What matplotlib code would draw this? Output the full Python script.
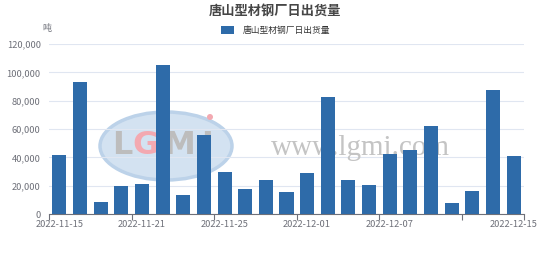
import matplotlib
matplotlib.use("Agg")
import matplotlib.pyplot as plt
from matplotlib.patches import Ellipse, Rectangle

plt.rcParams['font.family'] = ['Noto Sans CJK SC', 'DejaVu Sans']

# data (tons)
dates = ["2022-11-15", "2022-11-16", "2022-11-17", "2022-11-18", "2022-11-21",
         "2022-11-22", "2022-11-23", "2022-11-24", "2022-11-25", "2022-11-28",
         "2022-11-29", "2022-11-30", "2022-12-01", "2022-12-02", "2022-12-05",
         "2022-12-06", "2022-12-07", "2022-12-08", "2022-12-09", "2022-12-12",
         "2022-12-13", "2022-12-14", "2022-12-15"]
shipments = [41600, 92900, 8500, 19500, 20900, 104900, 13400, 55500, 29600, 17600,
             23800, 15300, 28900, 82400, 23800, 20700, 42600, 44900, 62100, 7800,
             16000, 87800, 40700]
y_ticks = [0, 20000, 40000, 60000, 80000, 100000, 120000]
label_idx = [0, 4, 8, 12, 16, 22]

title = "唐山型材钢厂日出货量"
bar_color = "#2e6ba9"
grey = "#6e7079"

W, H = 554, 269
fig = plt.figure(figsize=(W / 100, H / 100), dpi=100)
ax = fig.add_axes([49 / W, 1 - 214 / H, 475 / W, 170 / H])

x = list(range(len(dates)))
ax.bar(x, shipments, width=0.68, color=bar_color, zorder=3)

ax.set_xlim(-0.5, len(dates) - 0.5)
ax.set_ylim(0, 120000)
ax.set_yticks(y_ticks)
ax.set_yticklabels([f"{v:,}" for v in y_ticks], fontsize=6.7, color=grey)
ax.tick_params(axis='y', length=0, pad=6)
ax.grid(axis='y', color="#e0e6f1", linewidth=0.8, zorder=0)

# boundary ticks (no labels) and category labels
bounds = [i - 0.5 for i in range(0, len(dates), 4)] + [len(dates) - 0.5]
ax.set_xticks(bounds)
ax.set_xticklabels([])
ax.tick_params(axis='x', which='major', length=4, color=grey, width=0.8)
ax.set_xticks(label_idx, minor=True)
ax.set_xticklabels([dates[i] for i in label_idx], minor=True, fontsize=6.7, color=grey)
ax.tick_params(axis='x', which='minor', length=0, pad=4)

for s in ["top", "right", "left"]:
    ax.spines[s].set_visible(False)
ax.spines["bottom"].set_color(grey)
ax.spines["bottom"].set_linewidth(0.8)

# unit label
fig.text(47 / W, 1 - 28 / H, "吨", fontsize=6.5, color=grey, ha="center", va="center")

# title + legend
fig.text(275 / W, 1 - 11 / H, title, fontsize=9.5, fontweight="bold", color="#464646",
         ha="center", va="center")
fig.patches.append(Rectangle((221 / W, 1 - 34 / H), 13 / W, 8 / H, transform=fig.transFigure,
                             facecolor=bar_color, edgecolor="none"))
fig.text(243 / W, 1 - 30 / H, title, fontsize=6.3, color="#333333", ha="left", va="center")

# watermark, behind the bars
tf = fig.transFigure
ax.add_patch(Ellipse((166 / W, 1 - 146 / H), 132 / W, 68 / H, transform=tf,
                     facecolor="#d3e2f1", edgecolor="#bcd2e9", linewidth=2.5,
                     zorder=1, clip_on=False))
for ch, px, col in [("L", 122, "#bdbdbd"), ("G", 146, "#f3a9b1"),
                    ("M", 179, "#bdbdbd"), ("I", 207, "#bdbdbd")]:
    ax.text(px / W, 1 - 145 / H, ch, transform=tf, fontsize=23, fontweight="bold",
            color=col, ha="center", va="center", family="DejaVu Sans", zorder=2)
ax.add_patch(Ellipse((210 / W, 1 - 117 / H), 6 / W, 6 / H, transform=tf,
                     facecolor="#f3a9b1", edgecolor="none", zorder=2, clip_on=False))
ax.text(360 / W, 1 - 148 / H, "www.lgmi.com", transform=tf, fontsize=21, color="#c4c4c4",
        ha="center", va="center", family="Liberation Serif", zorder=2)

fig.savefig("out.png", dpi=100)
